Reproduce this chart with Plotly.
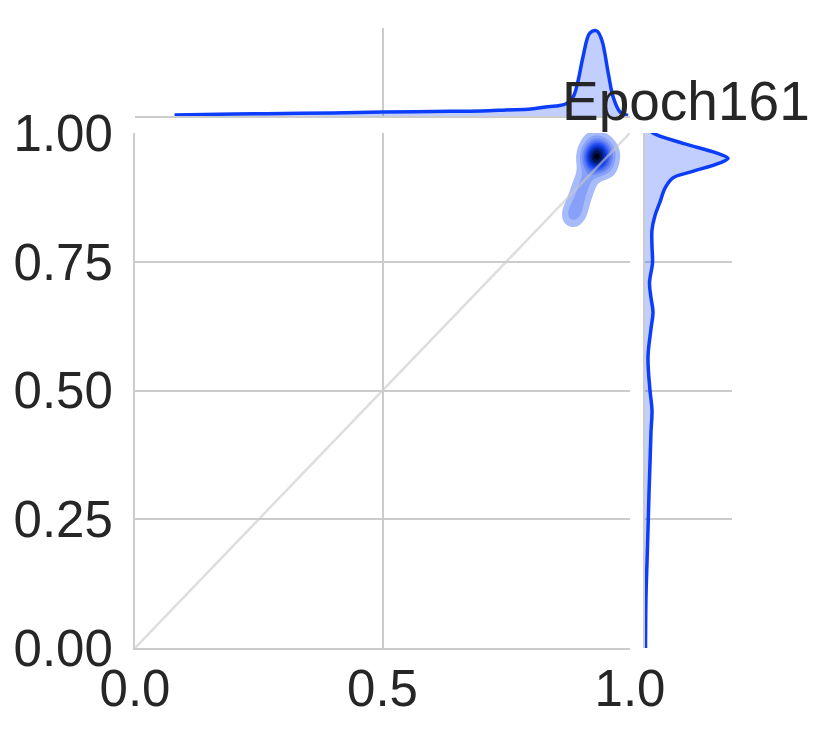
import numpy as np
import plotly.graph_objects as go

# joint sample (epoch 161)
pts_x = [0.931, 0.925, 0.937, 0.928, 0.934, 0.920, 0.942, 0.930, 0.926, 0.936,
         0.945, 0.918, 0.933, 0.940, 0.929, 0.950, 0.922, 0.938, 0.915, 0.910,
         0.905, 0.900, 0.896, 0.891, 0.887, 0.883, 0.960, 0.955, 0.925, 0.946]
pts_y = [0.953, 0.958, 0.948, 0.945, 0.962, 0.950, 0.955, 0.940, 0.966, 0.970,
         0.944, 0.960, 0.935, 0.965, 0.952, 0.952, 0.942, 0.975, 0.920, 0.906,
         0.893, 0.880, 0.866, 0.853, 0.843, 0.835, 0.960, 0.930, 0.985, 0.975]

# marginal densities (top: over x, right: over y)
top_x = [0.08, 0.2, 0.3, 0.4, 0.5, 0.6, 0.7, 0.75, 0.8, 0.83, 0.85, 0.87, 0.885,
         0.895, 0.905, 0.919, 0.933, 0.943, 0.956, 0.966, 0.98, 0.996]
top_d = [1, 2, 2.5, 3, 4, 4.5, 5, 6, 7, 9, 10, 12, 19, 35, 59, 83, 85, 76, 43, 19, 4, 0.5]

right_y = [0.0, 0.1, 0.165, 0.229, 0.3, 0.359, 0.42, 0.462, 0.5, 0.565, 0.62, 0.652,
           0.68, 0.709, 0.748, 0.78, 0.812, 0.84, 0.866, 0.893, 0.913, 0.924, 0.942,
           0.951, 0.961, 0.98, 1.0, 1.01]
right_d = [0.5, 1, 2, 3, 4, 5, 6, 7, 5, 3, 6, 8, 6, 4.5, 7.5, 7, 7, 10, 15, 20, 28,
           45, 75, 83, 72, 38, 8, 3]

diag = [0, 1]

BLUE = '#0b3dfa'
GRID = '#cccccc'
TXT = '#262626'
FONT = 'Liberation Sans, Arial, sans-serif'

# gaussian kde on a grid
gx = np.linspace(0.78, 1.06, 180)
gy = np.linspace(0.74, 1.06, 180)
XX, YY = np.meshgrid(gx, gy)
bw = 0.015
Z = np.zeros_like(XX)
for px, py in zip(pts_x, pts_y):
    Z += np.exp(-((XX - px) ** 2 + (YY - py) ** 2) / (2 * bw ** 2))
zmax = Z.max()
start = 0.06 * zmax
size = (0.96 * zmax - start) / 9

blues = ['#aabcf9', '#8ea5f8', '#728ef6', '#5677f5', '#3a60f3', '#1e49f1',
         '#0b38e0', '#082bb0', '#051e7e', '#02104a', '#000018']
cscale = [[0, 'rgba(255,255,255,0)']]
for i, c in enumerate(blues):
    cscale.append([(i + 1) / len(blues), c])

fig = go.Figure()

fig.add_trace(go.Contour(
    x=gx, y=gy, z=Z, colorscale=cscale, showscale=False,
    contours=dict(start=start, end=start + 9 * size, size=size, coloring='fill'),
    line=dict(width=0, smoothing=1.3), hoverinfo='skip',
    xaxis='x', yaxis='y'))

fig.add_trace(go.Scatter(x=diag, y=diag, mode='lines',
                         line=dict(color='rgba(200,200,200,0.6)', width=2.5),
                         xaxis='x', yaxis='y', hoverinfo='skip'))

fig.add_trace(go.Scatter(x=top_x, y=top_d, mode='lines', fill='tozeroy',
                         fillcolor='rgba(11,61,250,0.25)',
                         line=dict(color=BLUE, width=3.5, shape='spline'),
                         xaxis='x2', yaxis='y2'))

fig.add_trace(go.Scatter(x=right_d, y=right_y, mode='lines', fill='tozerox',
                         fillcolor='rgba(11,61,250,0.25)',
                         line=dict(color=BLUE, width=3.5, shape='spline'),
                         xaxis='x3', yaxis='y3'))

# page body adds an 8px offset, so positions are shifted back by it
W, H = 831, 730
OFF = 8
xd_main = [(135 - OFF) / W, (630 - OFF) / W]
yd_main = [(H - 648 + OFF) / H, (H - 133 + OFF) / H]
xd_right = [(645 - OFF) / W, (732 - OFF) / W]
yd_top = [(H - 116 + OFF) / H, (H - 28 + OFF) / H]

grid = dict(showgrid=True, gridcolor=GRID, gridwidth=1.5, zeroline=False, automargin=False)

fig.update_layout(
    width=W, height=H, margin=dict(l=0, r=0, t=0, b=0, autoexpand=False),
    paper_bgcolor='white', plot_bgcolor='white', showlegend=False,
    font=dict(family=FONT, color=TXT),
    xaxis=dict(domain=xd_main, range=[0, 1], tickvals=[0, 0.5, 1.0],
               ticktext=['0.0', '0.5', '1.0'], tickfont=dict(size=51),
               ticklabelstandoff=-5,
               showline=True, linecolor=GRID, linewidth=2, ticks='',
               anchor='y', **grid),
    yaxis=dict(domain=yd_main, range=[0, 1], tickvals=[0, 0.25, 0.5, 0.75, 1.0],
               ticktext=['0.00', '0.25', '0.50', '0.75', '1.00'], tickfont=dict(size=51),
               ticklabelstandoff=10,
               showline=True, linecolor=GRID, linewidth=2, ticks='',
               anchor='x', **grid),
    xaxis2=dict(domain=xd_main, range=[0, 1], tickvals=[0, 0.5, 1.0],
                showticklabels=False, showline=True, linecolor=GRID, linewidth=2,
                anchor='y2', **grid),
    yaxis2=dict(domain=yd_top, range=[0, 88], showgrid=False, zeroline=False,
                showticklabels=False, anchor='x2', automargin=False),
    xaxis3=dict(domain=xd_right, range=[0, 87], showgrid=False, zeroline=False,
                showticklabels=False, anchor='y3', automargin=False),
    yaxis3=dict(domain=yd_main, range=[0, 1], tickvals=[0, 0.25, 0.5, 0.75, 1.0],
                showticklabels=False, showline=True, linecolor=GRID, linewidth=2,
                anchor='x3', **grid),
)

fig.add_annotation(text='Epoch161', xref='paper', yref='paper',
                   x=(686 - OFF) / W, y=(H - 101 + OFF) / H, xanchor='center', yanchor='middle',
                   showarrow=False, font=dict(size=55, color=TXT, family=FONT))

fig.write_html('out.html')
